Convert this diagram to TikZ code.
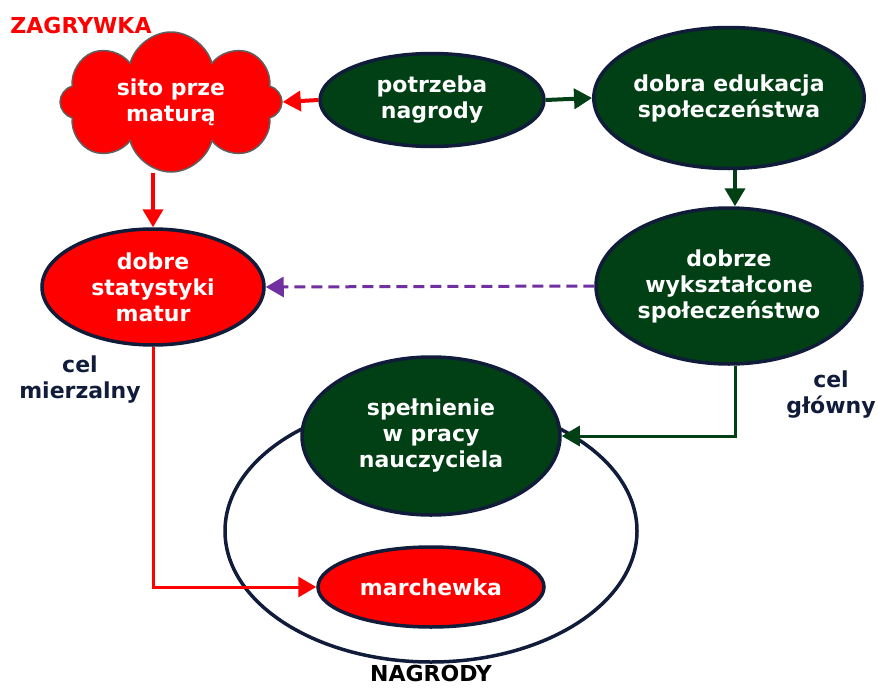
\documentclass[tikz,border=0pt]{standalone}
\usepackage{fontspec}
\setmainfont{DejaVu Sans}
\usetikzlibrary{arrows.meta,shapes.geometric,shapes.symbols}
\definecolor{GoalGreen}{RGB}{0,64,20}
\definecolor{EdgeNavy}{RGB}{16,28,58}
\definecolor{LinkPurple}{RGB}{112,48,160}
\definecolor{PuffGray}{RGB}{95,95,95}

\tikzset{
  goal/.style={ellipse, draw=EdgeNavy, line width=3.5pt, fill=GoalGreen, text=white, align=center, inner sep=0pt},
  trap/.style={goal, fill=red},
  caption/.style={text=EdgeNavy, align=center},
  flow/.style={line width=4pt, -{Triangle[length=18pt, width=20pt]}},
}

\begin{document}
\begin{tikzpicture}[x=1pt, y=-1pt, font=\fontsize{22}{26}\selectfont\bfseries]
    \useasboundingbox (0,0) rectangle (878,688);

    % Outer ring of rewards
    \node[ellipse, draw=EdgeNavy, line width=3.5pt, minimum width=412pt, minimum height=262pt] (ring) at (431,531) {};
    \node (nagrody) at (431,673) {NAGRODY};

    % The trap
    \node[cloud, cloud puffs=8, aspect=1.55, draw=PuffGray, line width=1.5pt, fill=red, text=white,
          align=center, minimum width=222pt, minimum height=140pt, inner sep=0pt] (sito) at (171,102) {sito prze\\maturą};
    \node[text=red] (zagrywka) at (81,25) {ZAGRYWKA};

    % Main goals
    \node[goal, minimum width=224pt, minimum height=93pt] (potrzeba) at (432,100) {potrzeba\\nagrody};
    \node[goal, minimum width=270pt, minimum height=141pt] (edukacja) at (729,98) {dobra edukacja\\społeczeństwa};
    \node[goal, minimum width=266pt, minimum height=156pt] (wyksztalcone) at (729,286) {dobrze\\wykształcone\\społeczeństwo};
    \node[trap, minimum width=222pt, minimum height=116pt] (statystyki) at (153,287) {dobre\\statystyki\\matur};

    % Inside the ring
    \node[goal, minimum width=258pt, minimum height=158pt] (spelnienie) at (431,436) {spełnienie\\w pracy\\nauczyciela};
    \node[trap, minimum width=226pt, minimum height=80pt] (marchewka) at (431,587) {marchewka};

    % Side captions
    \node[caption] (mierzalny) at (80,380) {cel\\mierzalny};
    \node[caption] (glowny) at (831,395) {cel\\główny};

    % Connections
    \draw[flow, red] (potrzeba.west) -- (sito.east);
    \draw[flow, GoalGreen] (potrzeba.east) -- (edukacja.west);
    \draw[flow, GoalGreen] ([xshift=6pt]edukacja.south) -- ([xshift=6pt]wyksztalcone.north);
    \draw[flow, red] (sito.south -| statystyki.north) -- (statystyki.north);
    \draw[flow, LinkPurple, line width=3pt, dash pattern=on 11pt off 6pt] (wyksztalcone.west) -- (statystyki.east);
    \draw[flow, GoalGreen, line width=3pt] ([xshift=6pt]wyksztalcone.south) |- (spelnienie.east);
    \draw[flow, red, line width=3pt] (statystyki.south) |- (marchewka.west);
\end{tikzpicture}
\end{document}
